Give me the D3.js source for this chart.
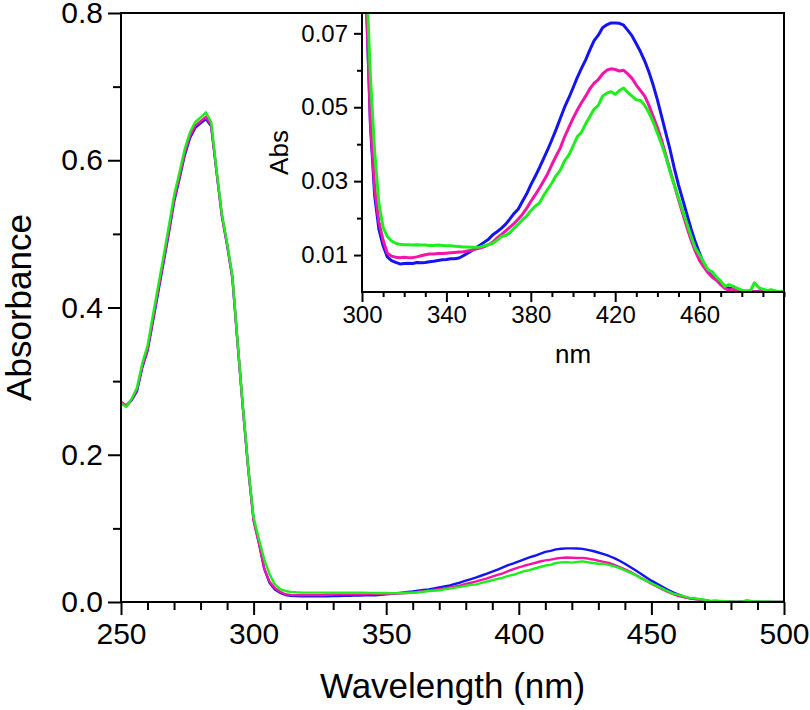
<!DOCTYPE html>
<html>
<head>
<meta charset="utf-8">
<script src="https://cdn.jsdelivr.net/npm/d3@7"></script>
<style>
body { margin: 0; background: #fff; }
text { font-family: "Liberation Sans", Arial, sans-serif; fill: #000; }
</style>
</head>
<body>
<div id="chart"></div>
<script>
"use strict";

var wavelength = [250,252,254,256,258,260,262,264,266,268,270,272,274,276,278,280,282,284,286,288,290,292,294,296,298,
    300,302,304,306,308,310,312,314,316,318,320,322,324,326,328,330,332,334,336,338,340,342,344,346,348,
    350,352,354,356,358,360,362,364,366,368,370,372,374,376,378,380,382,384,386,388,390,392,394,396,398,
    400,402,404,406,408,410,412,414,416,418,420,422,424,426,428,430,432,434,436,438,440,442,444,446,448,
    450,452,454,456,458,460,462,464,466,468,470,472,474,476,478,480,482,484,486,488,490,492,494,496,498,500];

var absBlue = [.271,.266,.274,.286,.318,.341,.380,.420,.460,.500,.543,.574,.606,.630,.644,.650,.656,.646,.585,.525,.485,.440,.350,.262,.180,
    .112,.080,.045,.026,.017,.0125,.0095,.0085,.0080,.0076,.0077,.0078,.0077,.0080,.0079,.0080,.0082,.0083,.0085,.0087,.0088,.0090,.0090,.0092,.0098,
    .0105,.0112,.0120,.0127,.0135,.0143,.0155,.0163,.0172,.0183,.0197,.0212,.0224,.0245,.0265,.0290,.0312,.0335,.0360,.0385,.0412,.0440,.0470,.0500,.0525,
    .0552,.0580,.0605,.0628,.0655,.0680,.0695,.0715,.0723,.0728,.0728,.0727,.0722,.0708,.0693,.0672,.0650,.0625,.0595,.0560,.0520,.0475,.0430,.0385,.0335,
    .0290,.0250,.0210,.0170,.0135,.0105,.0075,.0055,.0042,.0035,.0025,.0015,.0010,.0008,.0005,.0003,.0002,.0003,.0001,.0002,.0004,.0002,.0001,.0002,.0001,.0001];

var absPink = [.272,.267,.275,.288,.320,.343,.383,.423,.463,.503,.546,.577,.609,.633,.647,.653,.659,.648,.586,.526,.486,.441,.350,.262,.180,
    .110,.080,.046,.028,.019,.0140,.0105,.0097,.0094,.0093,.0094,.0093,.0093,.0095,.0098,.0101,.0103,.0103,.0104,.0104,.0105,.0106,.0107,.0108,.0109,
    .0111,.0113,.0116,.0119,.0123,.0128,.0135,.0146,.0155,.0165,.0175,.0185,.0197,.0210,.0226,.0245,.0262,.0280,.0300,.0320,.0345,.0368,.0390,.0420,.0445,
    .0470,.0492,.0512,.0530,.0550,.0565,.0575,.0590,.0600,.0604,.0602,.0598,.0600,.0590,.0578,.0560,.0545,.0530,.0505,.0475,.0445,.0410,.0370,.0330,.0290,
    .0250,.0212,.0175,.0140,.0110,.0085,.0068,.0052,.0040,.0032,.0020,.0010,.0005,.0008,.0004,.0001,.0000,.0002,.0001,.0001,.0002,.0001,.0000,.0001,.0000,.0000];

var absGreen = [.270,.265,.276,.291,.324,.348,.389,.429,.469,.510,.552,.583,.615,.638,.652,.658,.665,.652,.588,.528,.488,.443,.352,.264,.182,
    .115,.086,.058,.038,.024,.0175,.0150,.0138,.0132,.0129,.0128,.0128,.0127,.0128,.0127,.0127,.0126,.0126,.0127,.0126,.0125,.0125,.0124,.0123,.0122,
    .0122,.0121,.0121,.0122,.0125,.0128,.0132,.0140,.0150,.0153,.0160,.0172,.0183,.0195,.0205,.0220,.0232,.0240,.0260,.0278,.0295,.0315,.0330,.0355,.0370,
    .0395,.0420,.0432,.0455,.0475,.0495,.0505,.0530,.0538,.0542,.0535,.0545,.0552,.0540,.0530,.0520,.0518,.0505,.0485,.0460,.0430,.0400,.0365,.0325,.0290,
    .0255,.0220,.0185,.0150,.0118,.0100,.0080,.0060,.0055,.0040,.0030,.0015,.0020,.0015,.0010,.0005,.0003,.0002,.0025,.0012,.0008,.0004,.0006,.0002,.0001,.0002];

var seriesValues = [absBlue, absPink, absGreen];
var seriesColors = ["#1414f0", "#f514a8", "#1eee1e"];

var mainXTicks = [250, 300, 350, 400, 450, 500];
var mainXMinor = [260,270,280,290,310,320,330,340,360,370,380,390,410,420,430,440,460,470,480,490];
var mainYTicks = [0, 0.2, 0.4, 0.6, 0.8];
var mainYMinor = [0.1, 0.3, 0.5, 0.7];

var insetXTicks = [300, 340, 380, 420, 460];
var insetXMinor = [310,320,330,350,360,370,390,400,410,430,440,450,470,480,490,500];
var insetYTicks = [0.01, 0.03, 0.05, 0.07];
var insetYMinor = [0.02, 0.04, 0.06];

var width = 810, height = 710;

var svg = d3.select("#chart").append("svg")
    .attr("width", width)
    .attr("height", height);

function drawPanel(p) {
    var g = svg.append("g");
    var x = d3.scaleLinear().domain(p.xDomain).range(p.xRange);
    var y = d3.scaleLinear().domain(p.yDomain).range(p.yRange);

    g.append("rect")
        .attr("x", p.xRange[0]).attr("y", p.yRange[1])
        .attr("width", p.xRange[1] - p.xRange[0])
        .attr("height", p.yRange[0] - p.yRange[1])
        .attr("fill", "#fff");

    var clipId = "clip-" + p.name;
    g.append("clipPath").attr("id", clipId)
        .append("rect")
        .attr("x", p.xRange[0]).attr("y", p.yRange[1])
        .attr("width", p.xRange[1] - p.xRange[0])
        .attr("height", p.yRange[0] - p.yRange[1]);

    var line = d3.line()
        .x(function(d) { return x(d[0]); })
        .y(function(d) { return y(d[1]); });

    var lines = g.append("g").attr("clip-path", "url(#" + clipId + ")");
    seriesValues.forEach(function(vals, i) {
        var pts = wavelength.map(function(w, j) { return [w, vals[j]]; });
        lines.append("path")
            .attr("d", line(pts))
            .attr("fill", "none")
            .attr("stroke", seriesColors[i])
            .attr("stroke-width", p.lineWidth)
            .attr("stroke-linejoin", "round");
    });

    // minor ticks
    g.append("g")
        .attr("transform", "translate(0," + p.yRange[0] + ")")
        .call(d3.axisBottom(x).tickValues(p.xMinor).tickSize(p.minorTick).tickFormat(""))
        .call(function(a) { a.select(".domain").remove(); });
    g.append("g")
        .attr("transform", "translate(" + p.xRange[0] + ",0)")
        .call(d3.axisLeft(y).tickValues(p.yMinor).tickSize(p.minorTick).tickFormat(""))
        .call(function(a) { a.select(".domain").remove(); });

    // major ticks + labels
    var xa = g.append("g")
        .attr("transform", "translate(0," + p.yRange[0] + ")")
        .call(d3.axisBottom(x).tickValues(p.xTicks).tickSize(p.xMajorTick).tickPadding(p.xPad)
            .tickFormat(d3.format("d")));
    xa.select(".domain").remove();
    xa.selectAll("text").style("font-size", p.tickFont + "px").attr("fill", "#000");

    var ya = g.append("g")
        .attr("transform", "translate(" + p.xRange[0] + ",0)")
        .call(d3.axisLeft(y).tickValues(p.yTicks).tickSize(p.yMajorTick).tickPadding(p.yPad)
            .tickFormat(d3.format(p.yFormat)));
    ya.select(".domain").remove();
    ya.selectAll("text").style("font-size", p.tickFont + "px").attr("fill", "#000");

    g.selectAll(".tick line").attr("stroke", "#000").attr("stroke-width", 2);

    // frame
    g.append("rect")
        .attr("x", p.xRange[0]).attr("y", p.yRange[1])
        .attr("width", p.xRange[1] - p.xRange[0])
        .attr("height", p.yRange[0] - p.yRange[1])
        .attr("fill", "none")
        .attr("stroke", "#000")
        .attr("stroke-width", 2);

    g.append("text")
        .attr("x", (p.xRange[0] + p.xRange[1]) / 2)
        .attr("y", p.xTitleY)
        .attr("text-anchor", "middle")
        .style("font-size", p.titleFont + "px")
        .text(p.xTitle);

    g.append("text")
        .attr("transform", "translate(" + p.yTitleX + "," + (p.yRange[0] + p.yRange[1]) / 2 + ") rotate(-90)")
        .attr("text-anchor", "middle")
        .style("font-size", p.titleFont + "px")
        .text(p.yTitle);
}

drawPanel({
    name: "main",
    xDomain: [250, 500], xRange: [121, 784],
    yDomain: [0, 0.8], yRange: [602, 13],
    xTicks: mainXTicks, xMinor: mainXMinor,
    yTicks: mainYTicks, yMinor: mainYMinor,
    yFormat: ".1f",
    xMajorTick: 13, yMajorTick: 13, minorTick: 8,
    xPad: 8, yPad: 5,
    tickFont: 30, titleFont: 35,
    lineWidth: 2.4,
    xTitle: "Wavelength (nm)", xTitleY: 698,
    yTitle: "Absorbance", yTitleX: 31
});

drawPanel({
    name: "inset",
    xDomain: [300, 500], xRange: [362, 784],
    yDomain: [0, 0.0755], yRange: [292, 13],
    xTicks: insetXTicks, xMinor: insetXMinor,
    yTicks: insetYTicks, yMinor: insetYMinor,
    yFormat: ".2f",
    xMajorTick: 10, yMajorTick: 8, minorTick: 5,
    xPad: 4, yPad: 6,
    tickFont: 24, titleFont: 26,
    lineWidth: 3,
    xTitle: "nm", xTitleY: 363,
    yTitle: "Abs", yTitleX: 288
});
</script>
</body>
</html>
